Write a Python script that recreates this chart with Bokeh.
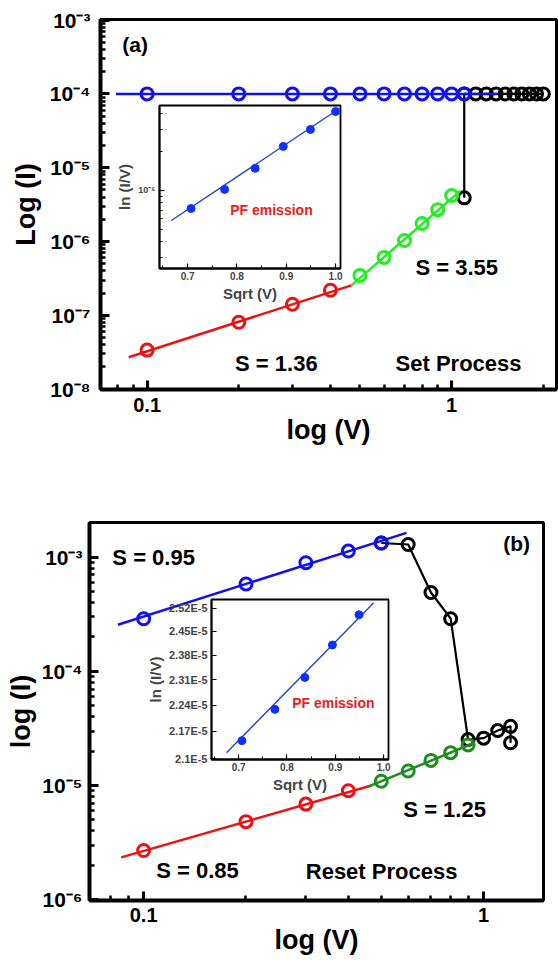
from bokeh.plotting import figure
from bokeh.layouts import column
from bokeh.models import FixedTicker, CustomJSTickFormatter, Label, Range1d
from bokeh.embed import file_html
from bokeh.resources import INLINE

FONT = "Liberation Sans"

# ---------------- Panel (a): Set process ----------------
a_red_v = [0.1, 0.2, 0.3, 0.4]
a_red_i = [3.37e-8, 8.04e-8, 1.41e-7, 2.18e-7]
a_red_fit_v = [0.087, 0.469]
a_red_fit_i = [2.70e-8, 2.54e-7]

a_green_v = [0.5, 0.6, 0.7, 0.8, 0.9, 1.0]
a_green_i = [3.47e-7, 6.08e-7, 1.03e-6, 1.75e-6, 2.70e-6, 4.19e-6]
a_green_fit_v = [0.469, 1.07]
a_green_fit_i = [2.54e-7, 4.89e-6]

a_black_v = [1.1, 1.1, 1.2, 1.3, 1.4, 1.5, 1.6, 1.7, 1.8, 1.9, 2.0]
a_black_i = [3.9e-6, 1.0e-4, 1.0e-4, 1.0e-4, 1.0e-4, 1.0e-4, 1.0e-4, 1.0e-4, 1.0e-4, 1.0e-4, 1.0e-4]

a_blue_v = [0.1, 0.2, 0.3, 0.4, 0.5, 0.6, 0.7, 0.8, 0.9, 1.0, 1.1]
a_blue_i = [1.0e-4, 1.0e-4, 1.0e-4, 1.0e-4, 1.0e-4, 1.0e-4, 1.0e-4, 1.0e-4, 1.0e-4, 1.0e-4, 1.0e-4]
a_blue_fit_v = [0.079, 1.41]
a_blue_fit_i = [1.0e-4, 1.0e-4]

# inset (a): PF emission
ia_sqrtv = [0.707, 0.775, 0.837, 0.894, 0.949, 1.0]
ia_iv = [7.23e-7, 1.02e-6, 1.49e-6, 2.21e-6, 3.00e-6, 4.14e-6]
ia_fit_x = [0.667, 1.008]
ia_fit_y = [5.83e-7, 4.37e-6]

# ---------------- Panel (b): Reset process ----------------
b_blue_v = [0.1, 0.2, 0.3, 0.4, 0.5]
b_blue_i = [2.89e-4, 5.82e-4, 8.93e-4, 1.13e-3, 1.33e-3]
b_blue_fit_v = [0.084, 0.593]
b_blue_fit_i = [2.56e-4, 1.63e-3]

b_black_v = [0.5, 0.6, 0.7, 0.8, 0.9, 1.0, 1.1, 1.2, 1.2]
b_black_i = [1.33e-3, 1.29e-3, 4.9e-4, 2.89e-4, 2.53e-5, 2.60e-5, 3.03e-5, 3.30e-5, 2.37e-5]

b_green_v = [0.5, 0.6, 0.7, 0.8, 0.9]
b_green_i = [1.09e-5, 1.34e-5, 1.66e-5, 1.94e-5, 2.27e-5]
b_green_fit_v = [0.456, 0.94]
b_green_fit_i = [9.75e-6, 2.37e-5]

b_red_v = [0.1, 0.2, 0.3, 0.4]
b_red_i = [2.70e-6, 4.83e-6, 6.88e-6, 9.0e-6]
b_red_fit_v = [0.0859, 0.468]
b_red_fit_i = [2.35e-6, 1.0e-5]

# inset (b): PF emission
ib_sqrtv = [0.707, 0.775, 0.837, 0.894, 0.949]
ib_iv = [2.146e-5, 2.229e-5, 2.317e-5, 2.410e-5, 2.500e-5]
ib_fit_x = [0.675, 0.979]
ib_fit_y = [2.1146e-5, 2.536e-5]

x_major = [0.1, 1]
inset_x_ticks = [0.7, 0.8, 0.9, 1.0]
ib_y_ticks = [2.10e-5, 2.17e-5, 2.24e-5, 2.31e-5, 2.38e-5, 2.45e-5, 2.52e-5]

BLUE = "#1010f0"
RED = "#ee1111"
GREEN_A = "#22ee22"
GREEN_B = "#1e8c1e"
BLACK = "#000000"

SUP = r"""
const sup = {"-":"\u207b","0":"\u2070","1":"\u00b9","2":"\u00b2","3":"\u00b3","4":"\u2074","5":"\u2075","6":"\u2076","7":"\u2077","8":"\u2078","9":"\u2079"};
const e = Math.round(Math.log10(tick));
return "10" + String(e).split("").map(c => sup[c]).join("");
"""
XFMT = "return tick >= 1 ? tick.toFixed(0) : tick.toFixed(1);"


def minor_log(e0, e1):
    return [k * 10.0 ** e for e in range(e0, e1) for k in range(2, 10)]


def style_main(p, ylabel, xlabel, ylab_standoff, y_std, x_std):
    p.grid.visible = False
    p.outline_line_color = "black"
    p.outline_line_width = 3
    p.background_fill_color = "white"
    p.border_fill_color = "white"
    for ax in (p.xaxis[0], p.yaxis[0]):
        ax.axis_line_width = 4
        ax.major_tick_in = 9
        ax.major_tick_out = 0
        ax.minor_tick_in = 5
        ax.minor_tick_out = 0
        ax.major_tick_line_width = 3
        ax.minor_tick_line_width = 2.5
        ax.major_label_text_font = FONT
        ax.major_label_text_font_style = "bold"
        ax.axis_label_text_font = FONT
        ax.axis_label_text_font_style = "bold"
        ax.axis_label_text_font_size = "27px"
        ax.axis_label_text_color = "black"
        ax.major_label_text_color = "black"
    p.yaxis[0].axis_label = ylabel
    p.xaxis[0].axis_label = xlabel
    p.yaxis[0].major_label_text_font_size = "21px"
    p.xaxis[0].major_label_text_font_size = "20px"
    p.yaxis[0].major_label_standoff = y_std
    p.yaxis[0].axis_label_standoff = ylab_standoff
    p.xaxis[0].major_label_standoff = x_std
    p.xaxis[0].axis_label_standoff = 0
    p.yaxis[0].formatter = CustomJSTickFormatter(code=SUP)
    p.xaxis[0].formatter = CustomJSTickFormatter(code=XFMT)


def style_inset(p, ylabel, xlabel):
    p.grid.visible = False
    p.outline_line_color = "black"
    p.outline_line_width = 1.8
    p.background_fill_color = "white"
    p.border_fill_color = None
    p.border_fill_alpha = 0
    for ax in (p.xaxis[0], p.yaxis[0]):
        ax.axis_line_width = 1.8
        ax.major_tick_in = 5
        ax.major_tick_out = 0
        ax.minor_tick_in = 3
        ax.minor_tick_out = 0
        ax.major_tick_line_width = 1.2
        ax.minor_tick_line_width = 1
        ax.major_label_text_font = FONT
        ax.major_label_text_font_style = "bold"
        ax.major_label_text_font_size = "10px"
        ax.axis_label_text_font = FONT
        ax.axis_label_text_font_style = "bold"
        ax.axis_label_text_font_size = "15px"
        ax.major_label_standoff = 4
        ax.axis_label_standoff = 2
    p.xaxis[0].axis_label = xlabel
    p.yaxis[0].axis_label = ylabel
    p.xaxis[0].major_label_standoff = 3
    p.xaxis[0].ticker = FixedTicker(ticks=inset_x_ticks, minor_ticks=[0.65, 0.75, 0.85, 0.95])
    p.xaxis[0].formatter = CustomJSTickFormatter(code="return tick.toFixed(1);")


def circles(p, x, y, color):
    p.scatter(x, y, marker="circle", size=12, fill_color=None, line_color=color, line_width=3)


def add_text(p, x, y, text, size="22px", color="black"):
    p.add_layout(Label(x=x, y=y, text=text, text_font=FONT, text_font_style="bold",
                       text_font_size=size, text_color=color, text_align="center",
                       text_baseline="middle"))


# ---------------- build panel (a) ----------------
pa = figure(width=558, height=460, x_axis_type="log", y_axis_type="log",
            x_range=Range1d(0.0703, 2.21), y_range=Range1d(0.985e-8, 1.02e-3),
            min_border_left=100, min_border_right=2, min_border_top=19, min_border_bottom=71,
            output_backend="svg", toolbar_location=None, frame_align=False)
style_main(pa, "Log (I)", "log (V)", 6, 10, 8)
pa.yaxis[0].ticker = FixedTicker(ticks=[1e-8, 1e-7, 1e-6, 1e-5, 1e-4, 1e-3], minor_ticks=minor_log(-8, -3))
pa.xaxis[0].ticker = FixedTicker(ticks=x_major,
                                 minor_ticks=[0.08, 0.09, 0.2, 0.3, 0.4, 0.5, 0.6, 0.7, 0.8, 0.9, 2.0])

pa.line(a_black_v, a_black_i, line_color=BLACK, line_width=2.2)
circles(pa, a_black_v, a_black_i, BLACK)
pa.line(a_blue_fit_v, a_blue_fit_i, line_color=BLUE, line_width=2.5)
circles(pa, a_blue_v, a_blue_i, BLUE)
pa.line(a_red_fit_v, a_red_fit_i, line_color=RED, line_width=2.5)
circles(pa, a_red_v, a_red_i, RED)
pa.line(a_green_fit_v, a_green_fit_i, line_color=GREEN_A, line_width=2.5)
circles(pa, a_green_v, a_green_i, GREEN_A)

add_text(pa, 0.0913, 4.74e-4, "(a)", size="21px")
add_text(pa, 1.04, 4.46e-7, "S = 3.55")
add_text(pa, 0.2657, 2.24e-8, "S = 1.36")
add_text(pa, 1.054, 2.24e-8, "Set Process")

# ---------------- build panel (b) ----------------
pb = figure(width=558, height=500, x_axis_type="log", y_axis_type="log",
            x_range=Range1d(0.0693, 1.50), y_range=Range1d(0.985e-6, 2.01e-3),
            min_border_left=89, min_border_right=15, min_border_top=62, min_border_bottom=60,
            output_backend="svg", toolbar_location=None, frame_align=False)
style_main(pb, "log (I)", "log (V)", 3, 7, 7)
pb.yaxis[0].ticker = FixedTicker(ticks=[1e-6, 1e-5, 1e-4, 1e-3], minor_ticks=minor_log(-6, -3) + [2e-3])
pb.xaxis[0].ticker = FixedTicker(ticks=x_major,
                                 minor_ticks=[0.08, 0.09, 0.2, 0.3, 0.4, 0.5, 0.6, 0.7, 0.8, 0.9])

pb.line(b_black_v, b_black_i, line_color=BLACK, line_width=2.2)
circles(pb, b_black_v, b_black_i, BLACK)
pb.line(b_blue_fit_v, b_blue_fit_i, line_color=BLUE, line_width=2.5)
circles(pb, b_blue_v, b_blue_i, BLUE)
pb.line(b_red_fit_v, b_red_fit_i, line_color=RED, line_width=2.5)
circles(pb, b_red_v, b_red_i, RED)
pb.line(b_green_fit_v, b_green_fit_i, line_color=GREEN_B, line_width=2.5)
circles(pb, b_green_v, b_green_i, GREEN_B)

add_text(pb, 0.107, 1.0e-3, "S = 0.95")
add_text(pb, 1.25, 1.32e-3, "(b)", size="21px")
add_text(pb, 0.768, 6.18e-6, "S = 1.25")
add_text(pb, 0.144, 1.79e-6, "S = 0.85")
add_text(pb, 0.501, 1.75e-6, "Reset Process")

# ---------------- inset (a) ----------------
ia = figure(frame_width=181, frame_height=163, y_axis_type="log",
            x_range=Range1d(0.643, 1.01), y_range=Range1d(2.46e-7, 4.61e-6),
            min_border_left=40, min_border_right=8, min_border_top=5, min_border_bottom=40,
            output_backend="svg", toolbar_location=None, frame_align=False,
            styles={"position": "absolute", "left": "113px", "top": "100px"})
style_inset(ia, "ln (I/V)", "Sqrt (V)")
ia.yaxis[0].ticker = FixedTicker(ticks=[1e-6],
                                 minor_ticks=[3e-7, 4e-7, 5e-7, 6e-7, 7e-7, 8e-7, 9e-7, 2e-6, 3e-6, 4e-6])
ia.yaxis[0].formatter = CustomJSTickFormatter(code=SUP)
ia.yaxis[0].major_label_text_font_size = "9px"
ia.line(ia_fit_x, ia_fit_y, line_color="#1f3fd0", line_width=1.3)
ia.scatter(ia_sqrtv, ia_iv, marker="circle", size=8, fill_color="#1030ff", line_color="#1030ff")
add_text(ia, 0.870, 6.98e-7, "PF emission", size="14px", color="#e82020")

# ---------------- inset (b) ----------------
ib = figure(frame_width=177, frame_height=160, y_axis_type="log",
            x_range=Range1d(0.644, 1.01), y_range=Range1d(2.0975e-5, 2.5467e-5),
            min_border_left=70, min_border_right=8, min_border_top=5, min_border_bottom=40,
            output_backend="svg", toolbar_location=None, frame_align=False,
            styles={"position": "absolute", "left": "141px", "top": "594px"})
style_inset(ib, "ln (I/V)", "Sqrt (V)")
ib.yaxis[0].ticker = FixedTicker(ticks=ib_y_ticks, minor_ticks=[])
ib.yaxis[0].formatter = CustomJSTickFormatter(
    code="let s = (tick*1e5).toFixed(2); s = s.replace(/0$/, ''); return s + 'E-5';")
ib.yaxis[0].major_label_text_font_size = "11px"
ib.line(ib_fit_x, ib_fit_y, line_color="#1f3fd0", line_width=1.3)
ib.scatter(ib_sqrtv, ib_iv, marker="circle", size=8, fill_color="#1030ff", line_color="#1030ff")
add_text(ib, 0.896, 2.247e-5, "PF emission", size="14px", color="#e82020")

layout = column(pa, pb, ia, ib, spacing=0)
open("out.html", "w").write(file_html(layout, INLINE))
